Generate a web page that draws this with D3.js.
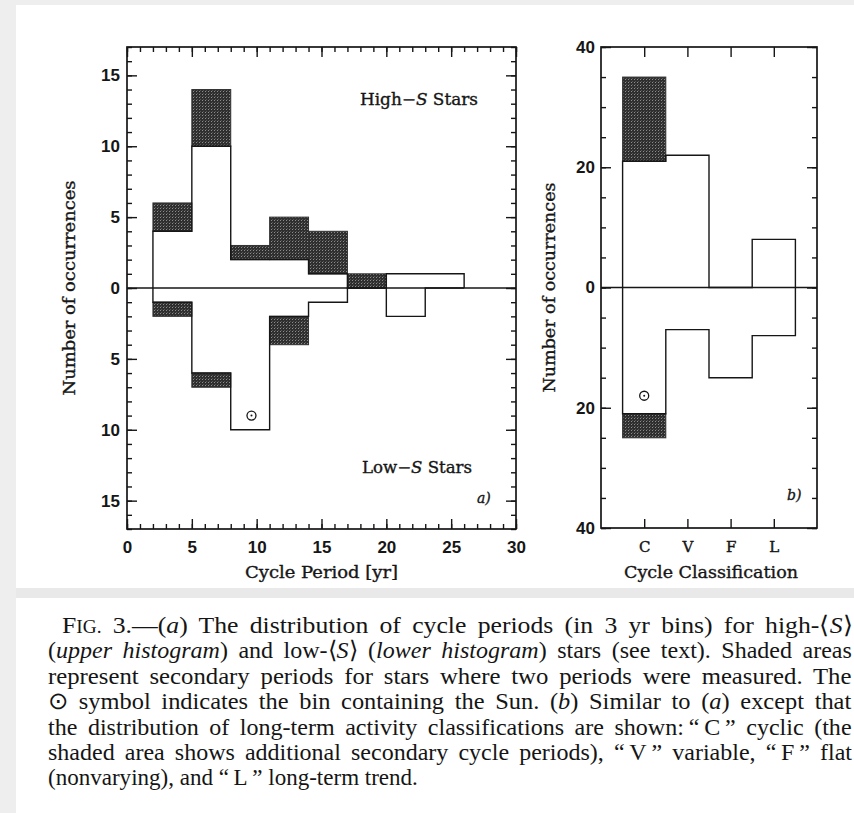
<!DOCTYPE html>
<html>
<head>
<meta charset="utf-8">
<script src="https://cdn.jsdelivr.net/npm/d3@7"></script>
<style>
  html, body { margin: 0; padding: 0; background: #eeeeee; }
  svg { display: block; }
</style>
</head>
<body>
<svg id="fig" width="854" height="813"></svg>
<script>
// (a) cycle periods, 3 yr bins starting at 2 yr
const periodBinStarts = [2, 5, 8, 11, 14, 17, 20, 23];
const periodBinWidth = 3;
const highSPrimary = [4, 10, 2, 2, 1, 0, 1, 1];
const highSTotal   = [6, 14, 3, 5, 4, 1, 1, 1];
const lowSPrimary  = [1, 6, 10, 2, 1, 0, 2, 0];
const lowSTotal    = [2, 7, 10, 4, 1, 0, 2, 0];
const sunPeriod = { x: 9.6, y: -9 };

// (b) long-term activity classes
const classes = ["C", "V", "F", "L"];
const classHighPrimary = [21, 22, 0, 8];
const classHighTotal   = [35, 22, 0, 8];
const classLowPrimary  = [21, 7, 15, 8];
const classLowTotal    = [25, 7, 15, 8];
const sunClass = { cls: "C", y: -18 };

// tick values
const periodTicks = [0, 5, 10, 15, 20, 25, 30];
const countTicksA = [-15, -10, -5, 0, 5, 10, 15];
const countTicksB = [-40, -20, 0, 20, 40];

// caption lines: [text, style] pieces (i = italic, sc = small caps)
const captionLines = [
  [["F"], ["IG.", "sc"], [" 3.\u2014("], ["a", "i"], [") The distribution of cycle periods (in 3 yr bins) for high-\u27E8"], ["S", "i"], ["\u27E9"]],
  [["("], ["upper histogram", "i"], [") and low-\u27E8"], ["S", "i"], ["\u27E9 ("], ["lower histogram", "i"], [") stars (see text). Shaded areas"]],
  [["represent secondary periods for stars where two periods were measured. The"]],
  [["\u2299 symbol indicates the bin containing the Sun. ("], ["b", "i"], [") Similar to ("], ["a", "i"], [") except that"]],
  [["the distribution of long-term activity classifications are shown:\u2009\u201C\u2009C\u2009\u201D cyclic (the"]],
  [["shaded area shows additional secondary cycle periods), \u201C\u2009V\u2009\u201D variable, \u201C\u2009F\u2009\u201D flat"]],
  [["(nonvarying), and \u201C\u2009L\u2009\u201D long-term trend."]]
];
const captionX = [62, 48, 48, 48, 48, 48, 48];
const captionEnd = [852, 852, 852, 852, 852, 852, 418];

const svg = d3.select("#fig");
const ink = "#161616";
const serif = "'DejaVu Serif', serif";
const sans = "'Liberation Sans', Arial, sans-serif";

// page: grey margin, white figure card, grey separator, white caption card
svg.append("rect").attr("width", 854).attr("height", 813).attr("fill", "#eeeeee");
svg.append("rect").attr("x", 16).attr("y", 5).attr("width", 838).attr("height", 583).attr("fill", "#ffffff");
svg.append("rect").attr("x", 16).attr("y", 588).attr("width", 838).attr("height", 10).attr("fill", "#e9e9e9");
svg.append("rect").attr("x", 16).attr("y", 598).attr("width", 838).attr("height", 215).attr("fill", "#ffffff");

// halftone shading for secondary periods
const defs = svg.append("defs");
const pat = defs.append("pattern").attr("id", "halftone")
  .attr("width", 3).attr("height", 3).attr("patternUnits", "userSpaceOnUse");
pat.append("rect").attr("width", 3).attr("height", 3).attr("fill", "#2f2f2f");
pat.append("rect").attr("x", 1).attr("y", 1).attr("width", 1).attr("height", 1).attr("fill", "#8c8c8c");
pat.append("rect").attr("x", 2).attr("y", 0).attr("width", 1).attr("height", 1).attr("fill", "#555555");

const A = { left: 127, right: 516, top: 47, bottom: 529 };
const B = { left: 601, right: 817, top: 47, bottom: 528 };

const xA = d3.scaleLinear().domain([0, 30]).range([A.left, A.right]);
const yA = d3.scaleLinear().domain([-17, 17]).range([A.bottom, A.top]);
const xB = d3.scaleLinear().domain([0, 5]).range([B.left, B.right]);
const bandB = d3.scaleBand().domain(classes).range([xB(0.5), xB(4.5)]).padding(0);
const yB = d3.scaleLinear().domain([-40, 40]).range([B.bottom, B.top]);

// bins in pixel x, values in data units
const binsA = periodBinStarts.map((s, i) => ({
  px0: xA(s), px1: xA(s + periodBinWidth),
  hiP: highSPrimary[i], hiT: highSTotal[i], loP: lowSPrimary[i], loT: lowSTotal[i]
}));
const binsB = classes.map((c, i) => ({
  px0: bandB(c), px1: bandB(c) + bandB.bandwidth(),
  hiP: classHighPrimary[i], hiT: classHighTotal[i], loP: classLowPrimary[i], loT: classLowTotal[i]
}));

function drawHistograms(g, bins, y, P) {
  // zero line
  g.append("line").attr("x1", P.left).attr("x2", P.right)
    .attr("y1", y(0)).attr("y2", y(0)).attr("stroke", ink).attr("stroke-width", 1.4);

  // shaded secondary periods
  const shaded = [];
  bins.forEach(b => {
    if (b.hiT > b.hiP) shaded.push({ x0: b.px0, x1: b.px1, v0: b.hiP, v1: b.hiT });
    if (b.loT > b.loP) shaded.push({ x0: b.px0, x1: b.px1, v0: -b.loT, v1: -b.loP });
  });
  g.selectAll("rect.shade").data(shaded).join("rect").attr("class", "shade")
    .attr("x", d => d.x0).attr("width", d => d.x1 - d.x0)
    .attr("y", d => y(d.v1)).attr("height", d => y(d.v0) - y(d.v1))
    .attr("fill", "url(#halftone)").attr("stroke", "#333").attr("stroke-width", 1);

  // step outlines for primary counts (upper positive, lower negative)
  const line = d3.line().x(d => d[0]).y(d => y(d[1]));
  const step = (sign, key) => {
    const pts = [[bins[0].px0, 0]];
    bins.forEach(b => { pts.push([b.px0, sign * b[key]]); pts.push([b.px1, sign * b[key]]); });
    pts.push([bins[bins.length - 1].px1, 0]);
    return pts;
  };
  g.append("path").attr("d", line(step(1, "hiP")))
    .attr("fill", "none").attr("stroke", ink).attr("stroke-width", 1.4);
  g.append("path").attr("d", line(step(-1, "loP")))
    .attr("fill", "none").attr("stroke", ink).attr("stroke-width", 1.4);
}

function sunSymbol(g, cx, cy) {
  g.append("circle").attr("cx", cx).attr("cy", cy).attr("r", 4.5)
    .attr("fill", "none").attr("stroke", ink).attr("stroke-width", 1.3);
  g.append("circle").attr("cx", cx).attr("cy", cy).attr("r", 1).attr("fill", ink);
}

function styleAxis(g) {
  g.select(".domain").remove();
  g.selectAll(".tick line").attr("stroke", ink).attr("stroke-width", 1.4);
  g.selectAll(".tick text").attr("fill", ink);
}

function numberLabels(g) {
  g.selectAll(".tick text").attr("font-family", sans).attr("font-size", 17).attr("font-weight", 600);
}

function frame(P) {
  svg.append("rect").attr("x", P.left).attr("y", P.top)
    .attr("width", P.right - P.left).attr("height", P.bottom - P.top)
    .attr("fill", "none").attr("stroke", ink).attr("stroke-width", 1.7);
}

// ---------- panel (a) ----------
const gA = svg.append("g");
drawHistograms(gA, binsA, yA, A);
sunSymbol(gA, xA(sunPeriod.x), yA(sunPeriod.y));

const minorX = d3.range(0, 31);
const minorYA = d3.range(-17, 18);
svg.append("g").attr("transform", `translate(0,${A.bottom})`)
  .call(d3.axisBottom(xA).tickValues(minorX).tickSize(-5).tickFormat("")).call(styleAxis);
svg.append("g").attr("transform", `translate(0,${A.bottom})`)
  .call(d3.axisBottom(xA).tickValues(periodTicks).tickSize(-10).tickPadding(12).tickFormat(d3.format("d")))
  .call(styleAxis).call(numberLabels);
svg.append("g").attr("transform", `translate(0,${A.top})`)
  .call(d3.axisTop(xA).tickValues(minorX).tickSize(-5).tickFormat("")).call(styleAxis);
svg.append("g").attr("transform", `translate(0,${A.top})`)
  .call(d3.axisTop(xA).tickValues(periodTicks).tickSize(-10).tickFormat("")).call(styleAxis);
svg.append("g").attr("transform", `translate(${A.left},0)`)
  .call(d3.axisLeft(yA).tickValues(minorYA).tickSize(-5).tickFormat("")).call(styleAxis);
svg.append("g").attr("transform", `translate(${A.left},0)`)
  .call(d3.axisLeft(yA).tickValues(countTicksA).tickSize(-10).tickPadding(7).tickFormat(d => Math.abs(d)))
  .call(styleAxis).call(numberLabels);
svg.append("g").attr("transform", `translate(${A.right},0)`)
  .call(d3.axisRight(yA).tickValues(minorYA).tickSize(-5).tickFormat("")).call(styleAxis);
svg.append("g").attr("transform", `translate(${A.right},0)`)
  .call(d3.axisRight(yA).tickValues(countTicksA).tickSize(-10).tickFormat("")).call(styleAxis);
frame(A);

// ---------- panel (b) ----------
const gB = svg.append("g");
drawHistograms(gB, binsB, yB, B);
sunSymbol(gB, bandB(sunClass.cls) + bandB.bandwidth() / 2, yB(sunClass.y));

const classCenter = d3.scalePoint().domain(classes)
  .range([bandB(classes[0]) + bandB.bandwidth() / 2, bandB(classes[3]) + bandB.bandwidth() / 2]);
const minorYB = d3.range(-40, 41, 5);
svg.append("g").attr("transform", `translate(0,${B.bottom})`)
  .call(d3.axisBottom(classCenter).tickSize(-9).tickPadding(13))
  .call(styleAxis)
  .call(g => g.selectAll(".tick text").attr("font-family", serif).attr("font-size", 15)
    .attr("stroke", ink).attr("stroke-width", 0.4));
svg.append("g").attr("transform", `translate(0,${B.top})`)
  .call(d3.axisTop(classCenter).tickSize(-10).tickFormat("")).call(styleAxis);
svg.append("g").attr("transform", `translate(${B.left},0)`)
  .call(d3.axisLeft(yB).tickValues(minorYB).tickSize(-5).tickFormat("")).call(styleAxis);
svg.append("g").attr("transform", `translate(${B.left},0)`)
  .call(d3.axisLeft(yB).tickValues(countTicksB).tickSize(-10).tickPadding(6).tickFormat(d => Math.abs(d)))
  .call(styleAxis).call(numberLabels);
svg.append("g").attr("transform", `translate(${B.right},0)`)
  .call(d3.axisRight(yB).tickValues(minorYB).tickSize(-5).tickFormat("")).call(styleAxis);
svg.append("g").attr("transform", `translate(${B.right},0)`)
  .call(d3.axisRight(yB).tickValues(countTicksB).tickSize(-10).tickFormat("")).call(styleAxis);
frame(B);

// ---------- axis titles and panel labels ----------
function label(x, y, parts, opts = {}) {
  const t = svg.append("text").attr("x", x).attr("y", y)
    .attr("font-family", serif).attr("font-size", opts.size || 16)
    .attr("fill", ink).attr("stroke", ink).attr("stroke-width", 0.35)
    .attr("text-anchor", opts.anchor || "start");
  if (opts.length) t.attr("textLength", opts.length).attr("lengthAdjust", "spacingAndGlyphs");
  if (opts.rotate) t.attr("transform", `rotate(-90,${x},${y})`);
  parts.forEach(p => {
    const s = t.append("tspan").text(p[0]);
    if (p[1] === "i") s.attr("font-style", "italic");
  });
  return t;
}
label((A.left + A.right) / 2, 578, [["Cycle Period [yr]"]], { anchor: "middle", length: 153 });
label((B.left + B.right) / 2 + 2, 578, [["Cycle Classification"]], { anchor: "middle", length: 174 });
label(75, (A.top + A.bottom) / 2, [["Number of occurrences"]], { anchor: "middle", length: 215, rotate: true });
label(555, (B.top + B.bottom) / 2, [["Number of occurrences"]], { anchor: "middle", length: 210, rotate: true });
label(360, 105, [["High\u2212"], ["S", "i"], [" Stars"]], { length: 118 });
label(362, 473, [["Low\u2212"], ["S", "i"], [" Stars"]], { length: 110 });
label(477, 503, [["a)", "i"]], { size: 14 });
label(787, 500, [["b)", "i"]], { size: 14 });

// ---------- caption (justified full lines, ragged last line) ----------
const capFont = "'Liberation Serif', 'Times New Roman', serif";
const capY0 = 633, capDy = 25.4;
captionLines.forEach((parts, i) => {
  const y0 = capY0 + i * capDy;
  const t = svg.append("text")
    .attr("x", 0).attr("y", 0)
    .attr("font-family", capFont).attr("font-size", 24).attr("fill", "#151515");
  parts.forEach(p => {
    const s = t.append("tspan").text(p[0]);
    if (p[1] === "i") s.attr("font-style", "italic");
    if (p[1] === "sc") s.attr("font-size", 18);
  });
  const target = captionEnd[i] - captionX[i];
  const natural = t.node().getComputedTextLength();
  const spaces = parts.map(p => p[0]).join("").split(" ").length - 1;
  let ws = 0;
  if (i < captionLines.length - 1 && natural < target && spaces > 0) {
    // widen word gaps a little, then stretch the rest evenly
    ws = Math.min((target - natural) / spaces, 4.5);
    t.attr("word-spacing", ws);
  }
  const sx = target / (natural + ws * spaces);
  t.attr("transform", `translate(${captionX[i]},${y0}) scale(${sx},1)`);
});
</script>
</body>
</html>
